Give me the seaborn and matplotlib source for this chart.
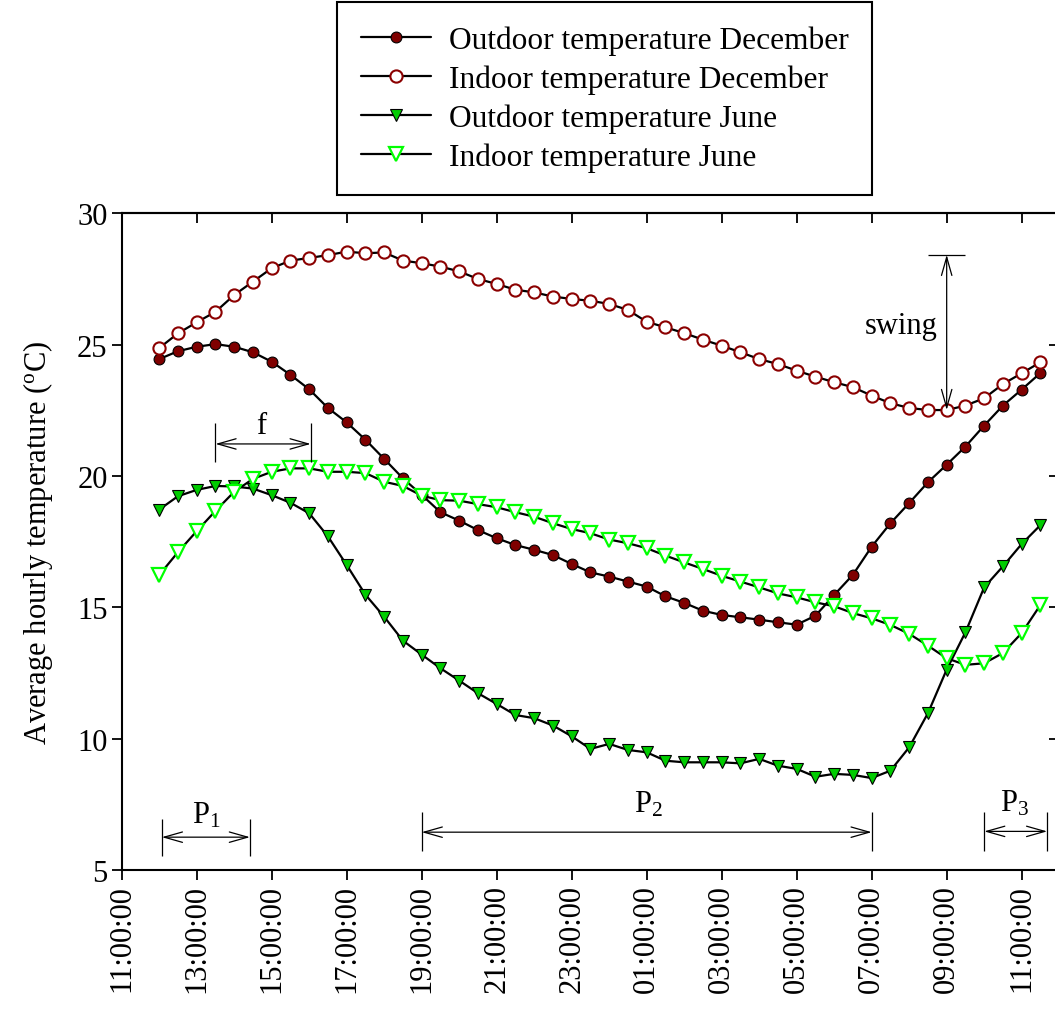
import matplotlib
matplotlib.use("Agg")
import matplotlib.pyplot as plt
import numpy as np
import pandas as pd
import seaborn as sns

# Half-hourly sampling instants, 12:00 to 11:30 of the following day
origin = pd.Timestamp("2000-01-01 11:00")
sample_times = pd.date_range("2000-01-01 12:00", "2000-01-02 11:30", freq="30min")

tick_labels = ["11:00:00", "13:00:00", "15:00:00", "17:00:00", "19:00:00",
               "21:00:00", "23:00:00", "01:00:00", "03:00:00", "05:00:00",
               "07:00:00", "09:00:00", "11:00:00"]
y_ticks = [5, 10, 15, 20, 25, 30]

outdoor_dec = [24.45, 24.75, 24.92, 25.02, 24.92, 24.71, 24.35, 23.85, 23.30, 22.59,
               22.04, 21.38, 20.65, 19.91, 19.28, 18.62, 18.30, 17.94, 17.63, 17.37,
               17.19, 16.99, 16.65, 16.33, 16.17, 15.98, 15.79, 15.42, 15.17, 14.87,
               14.71, 14.62, 14.53, 14.43, 14.34, 14.68, 15.47, 16.24, 17.31, 18.20,
               18.97, 19.76, 20.43, 21.12, 21.92, 22.68, 23.29, 23.92]

indoor_dec = [24.87, 25.43, 25.85, 26.25, 26.89, 27.40, 27.91, 28.20, 28.30, 28.41,
              28.54, 28.48, 28.51, 28.20, 28.10, 27.97, 27.79, 27.50, 27.31, 27.09,
              26.99, 26.83, 26.74, 26.67, 26.55, 26.32, 25.87, 25.66, 25.44, 25.19,
              24.96, 24.71, 24.45, 24.26, 24.01, 23.78, 23.57, 23.38, 23.06, 22.77,
              22.59, 22.51, 22.51, 22.68, 22.96, 23.50, 23.91, 24.33]

outdoor_jun = [18.72, 19.23, 19.47, 19.62, 19.60, 19.52, 19.27, 18.98, 18.58, 17.70,
               16.61, 15.48, 14.64, 13.73, 13.20, 12.68, 12.21, 11.73, 11.32, 10.90,
               10.78, 10.50, 10.09, 9.61, 9.80, 9.57, 9.48, 9.16, 9.10, 9.10,
               9.10, 9.06, 9.23, 8.97, 8.85, 8.55, 8.66, 8.62, 8.50, 8.78,
               9.67, 10.97, 12.63, 14.05, 15.76, 16.56, 17.41, 18.13]

indoor_jun = [16.23, 17.10, 17.90, 18.67, 19.40, 19.89, 20.16, 20.29, 20.29, 20.16,
              20.16, 20.11, 19.78, 19.62, 19.25, 19.08, 19.06, 18.93, 18.81, 18.62,
              18.45, 18.20, 17.98, 17.82, 17.58, 17.44, 17.25, 16.97, 16.71, 16.46,
              16.20, 15.98, 15.76, 15.53, 15.38, 15.19, 15.04, 14.78, 14.58, 14.33,
              13.99, 13.54, 13.06, 12.81, 12.87, 13.26, 14.02, 15.09]

series_labels = ["Outdoor temperature December", "Indoor temperature December",
                 "Outdoor temperature June", "Indoor temperature June"]

sns.set_theme(style="ticks")
plt.rcParams.update({
    "mathtext.fontset": "custom",
    "mathtext.rm": "Liberation Serif",
    "mathtext.it": "Liberation Serif:italic",
    "axes.linewidth": 1.5,
    "axes.edgecolor": "black",
    "text.color": "black",
    "axes.labelcolor": "black",
    "xtick.color": "black",
    "ytick.color": "black",
})
plt.rcParams["font.family"] = ["Liberation Serif", "DejaVu Serif"]

FS = 22
hours = ((sample_times - origin) / pd.Timedelta(hours=1)).to_numpy()

fig = plt.figure(figsize=(10.55, 10.12), dpi=100)
ax = fig.add_axes([0.11536, 0.13933, 0.8886, 0.6489])

styles = [
    dict(marker="o", markersize=7.8, markerfacecolor="#7F0000", markeredgecolor="black", markeredgewidth=0.8),
    dict(marker="o", markersize=8.8, markerfacecolor="white", markeredgecolor="#8B0000", markeredgewidth=1.5),
    dict(marker="v", markersize=9, markerfacecolor="#00CC00", markeredgecolor="black", markeredgewidth=0.8),
    dict(marker="v", markersize=10.5, markerfacecolor="white", markeredgecolor="#00FF00", markeredgewidth=1.6),
]
values = [outdoor_dec, indoor_dec, outdoor_jun, indoor_jun]

for label, vals, st in zip(series_labels, values, styles):
    sns.lineplot(x=hours, y=vals, ax=ax, color="black", linewidth=1.6,
                 label=label, legend=False, **st)

ax.set_xlim(0, 25)
ax.set_ylim(5, 30)
ax.set_xticks(np.arange(0, 25, 2))
ax.set_xticklabels(tick_labels, rotation=90)
ax.set_yticks(y_ticks)
ax.tick_params(direction="out", length=7.2, width=1.3, labelsize=FS, pad=3)
ax.set_ylabel(r"Average hourly temperature ($^{\rm o}$C)", fontsize=FS, labelpad=16)
ax.set_xlabel("")

# Mirrored ticks on the top and right edges, pointing inwards
top = ax.secondary_xaxis("top")
top.set_xticks(np.arange(0, 25, 2))
top.tick_params(direction="in", length=7.2, width=1.3, labeltop=False)
right = ax.secondary_yaxis("right")
right.set_yticks(y_ticks)
right.tick_params(direction="in", length=7.2, width=1.3, labelright=False)

arrow_style = "<->, head_length=0.6, head_width=0.17"


def span(x0, x1, y, y_lo, y_hi):
    ax.annotate("", xy=(x1, y), xytext=(x0, y),
                arrowprops=dict(arrowstyle=arrow_style, mutation_scale=22,
                                lw=0.9, color="black", shrinkA=0, shrinkB=0))
    ax.vlines([x0, x1], y_lo, y_hi, colors="black", lw=0.9)


# Periods P1, P2, P3
span(1.07, 3.42, 6.25, 5.52, 6.95)
ax.text(2.25, 6.8, r"P$_{1}$", fontsize=FS, ha="center", va="baseline")
span(8.0, 20.0, 6.44, 5.72, 7.21)
ax.text(14.05, 7.22, r"P$_{2}$", fontsize=FS, ha="center", va="baseline")
span(23.0, 24.68, 6.47, 5.72, 7.21)
ax.text(23.8, 7.28, r"P$_{3}$", fontsize=FS, ha="center", va="baseline")

# Time lag f
span(2.5, 5.04, 21.22, 20.55, 22.0)
ax.text(3.73, 21.65, "f", fontsize=FS, ha="center", va="baseline")

# Daily swing of the December indoor temperature
ax.annotate("", xy=(22.0, 22.51), xytext=(22.0, 28.42),
            arrowprops=dict(arrowstyle=arrow_style, mutation_scale=22,
                            lw=0.9, color="black", shrinkA=0, shrinkB=0))
ax.hlines(28.42, 21.49, 22.48, colors="black", lw=0.9)
ax.text(21.75, 25.72, "swing", fontsize=FS, ha="right", va="center")

handles, labels = ax.get_legend_handles_labels()
leg = fig.legend(handles, labels, loc="upper center",
                 bbox_to_anchor=(604.5 / 1055, 1 - 3 / 1012),
                 frameon=True, fancybox=False, edgecolor="black", framealpha=1,
                 fontsize=22.6, handlelength=2.25, handletextpad=0.55,
                 labelspacing=0.3, borderpad=0.75, borderaxespad=0)
leg.get_frame().set_linewidth(1.5)

fig.savefig("out.png", dpi=100)
